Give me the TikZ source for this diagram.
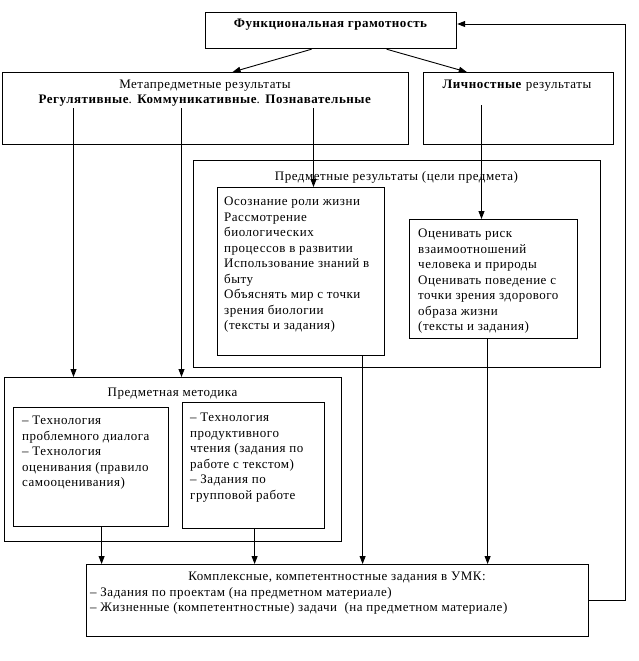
\documentclass[tikz,border=0pt]{standalone}
\usepackage{fontspec}
\setmainfont{Liberation Serif}[LetterSpace=4]
\usetikzlibrary{positioning,arrows.meta}

\begin{document}
\begin{tikzpicture}
            [
            x=1pt, y=-1pt,
            every node/.style={font=\fontsize{13}{15.5}\selectfont},
            box/.style 2 args={draw, line width=1.2pt, rectangle, inner sep=0pt,
                minimum width=#1pt, minimum height=#2pt, anchor=north west},
            head/.style={anchor=base, inner sep=0pt},
            body/.style={anchor=north west, inner sep=0pt, align=left},
            arr/.style={line width=0.9pt, -{Triangle[width=6pt,length=8pt]}}
            ]
            \useasboundingbox (0,0) rectangle (638,661);

            \node (fg) [box={251}{36}] at (205,12) {};
            \node (meta) [box={406}{72}] at (2,72) {};
            \node (lich) [box={190}{72}, right=14pt of meta] {};
            \node (pr) [box={407}{207}] at (193,160) {};
            \node (pr1) [box={167}{168}, below right=27pt and 24pt of pr.north west] {};
            \node (pr2) [box={168}{119}, below right=59pt and 216pt of pr.north west] {};
            \node (pm) [box={337}{164}] at (4,377) {};
            \node (pm1) [box={155}{119}, below right=30pt and 9pt of pm.north west] {};
            \node (pm2) [box={142}{126}, below right=25pt and 178pt of pm.north west] {};
            \node (ks) [box={502}{72}] at (86,564) {};

            % Texts
            \node (fgt) [head] at (330.5,28) {\bfseries Функциональная грамотность};
            \node (metat) [anchor=north, inner sep=0pt, align=center] at (205,79.5)
                {Метапредметные результаты\\
                 \textbf{Регулятивные}. \textbf{Коммуникативные}. \textbf{Познавательные}};
            \node (licht) [head] at (517,88.5) {\textbf{Личностные} результаты};
            \node (prt) [head] at (396.5,180) {Предметные результаты (цели предмета)};
            \node (pr1t) [body, below right=10pt and 7pt of pr1.north west]
                {Осознание роли жизни\\ Рассмотрение\\ биологических\\
                 процессов в развитии\\ Использование знаний в\\ быту\\
                 Объяснять мир с точки\\ зрения биологии\\ (тексты и задания)};
            \node (pr2t) [body, below right=10pt and 9pt of pr2.north west]
                {Оценивать риск\\ взаимоотношений\\ человека и природы\\
                 Оценивать поведение с\\ точки зрения здорового\\ образа жизни\\
                 (тексты и задания)};
            \node (pmt) [head] at (172.5,396) {Предметная методика};
            \node (pm1t) [body, below right=9pt and 9pt of pm1.north west]
                {-- Технология\\ проблемного диалога\\ -- Технология\\
                 оценивания (правило\\ самооценивания)};
            \node (pm2t) [body, below right=11pt and 8pt of pm2.north west]
                {-- Технология\\ продуктивного\\ чтения (задания по\\
                 работе с текстом)\\ -- Задания по\\ групповой работе};
            \node (kst) [head] at (337,580) {Комплексные, компетентностные задания в УМК:};
            \node (ks1) [body, below right=23pt and 4pt of ks.north west]
                {-- Задания по проектам (на предметном материале)\\
                 -- Жизненные (компетентностные) задачи\ \ (на предметном материале)};

            % Connectors
            \draw [arr] ([xshift=-19.5pt]fg.south) -- ([xshift=27pt]meta.north);
            \draw [arr] ([xshift=55.5pt]fg.south) -- ([xshift=-52pt]lich.north);

            \coordinate (m1) at (73.5,108);
            \coordinate (m2) at (181.5,108);
            \coordinate (m3) at (313.5,108);
            \coordinate (l1) at (481.5,105);
            \foreach \c/\t in {m1/pm,m2/pm,m3/pr1,l1/pr2}
            \draw [arr] (\c) -- (\c |- \t.north);

            \foreach \b/\d in {pm1/10.5,pm2/1,pr1/61.5,pr2/-6}
            \draw [arr] ([xshift=\d pt]\b.south) coordinate (s) -- (s |- ks.north);

            \coordinate (fb) at (625,24);
            \draw [arr] (ks.east) -| (fb) -- (fb -| fg.east);
        \end{tikzpicture}
\end{document}
